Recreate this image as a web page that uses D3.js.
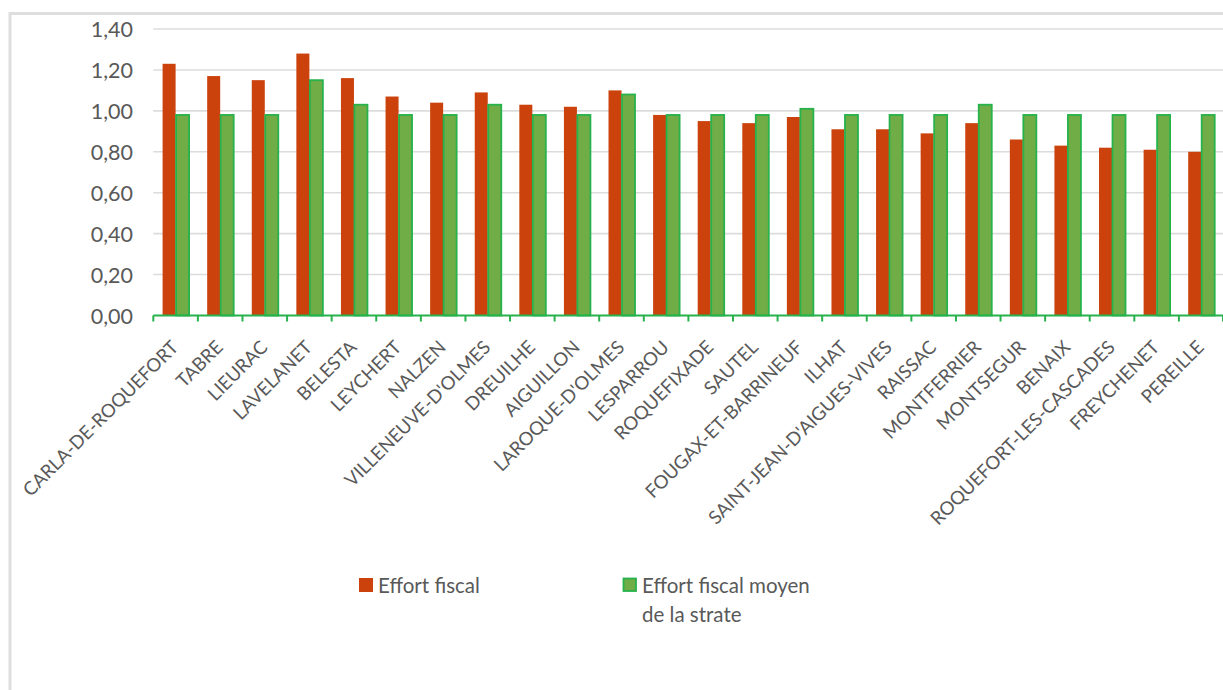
<!DOCTYPE html>
<html>
<head>
<meta charset="utf-8">
<script src="https://cdn.jsdelivr.net/npm/d3@7"></script>
<style>
  html, body { margin: 0; padding: 0; background: #fff; }
  svg { display: block; }
  text { font-family: Lato, "Open Sans", sans-serif; fill: #595959; }
</style>
</head>
<body>
<svg id="chart" width="1223" height="690"></svg>
<script>
// Communes, in chart order
const communes = [
  "CARLA-DE-ROQUEFORT", "TABRE", "LIEURAC", "LAVELANET", "BELESTA", "LEYCHERT",
  "NALZEN", "VILLENEUVE-D'OLMES", "DREUILHE", "AIGUILLON", "LAROQUE-D'OLMES",
  "LESPARROU", "ROQUEFIXADE", "SAUTEL", "FOUGAX-ET-BARRINEUF", "ILHAT",
  "SAINT-JEAN-D'AIGUES-VIVES", "RAISSAC", "MONTFERRIER", "MONTSEGUR", "BENAIX",
  "ROQUEFORT-LES-CASCADES", "FREYCHENET", "PEREILLE"
];

// Effort fiscal de la commune
const effortFiscal = [
  1.23, 1.17, 1.15, 1.28, 1.16, 1.07,
  1.04, 1.09, 1.03, 1.02, 1.10,
  0.98, 0.95, 0.94, 0.97, 0.91,
  0.91, 0.89, 0.94, 0.86, 0.83,
  0.82, 0.81, 0.80
];

// Effort fiscal moyen de la strate
const effortStrate = [
  0.98, 0.98, 0.98, 1.15, 1.03, 0.98,
  0.98, 1.03, 0.98, 0.98, 1.08,
  0.98, 0.98, 0.98, 1.01, 0.98,
  0.98, 0.98, 1.03, 0.98, 0.98,
  0.98, 0.98, 0.98
];

const yTicks = [0, 0.2, 0.4, 0.6, 0.8, 1.0, 1.2, 1.4];

const seriesNames = ["Effort fiscal", "Effort fiscal moyen de la strate"];

const RED = "#cb420c";
const GREEN_FILL = "#70ad47";
const GREEN_LINE = "#27b24b";
const GRID = "#dcdcdc";

const svg = d3.select("#chart");

// Outer chart frame
svg.append("rect")
  .attr("x", 10).attr("y", 13.5)
  .attr("width", 1400).attr("height", 900)
  .attr("fill", "none")
  .attr("stroke", "#dedede")
  .attr("stroke-width", 3);

const plot = { left: 153.3, right: 1223.5, top: 29, bottom: 315.5 };

const x = d3.scaleBand()
  .domain(communes)
  .range([plot.left, plot.right])
  .paddingInner(0).paddingOuter(0);

const y = d3.scaleLinear()
  .domain([0, 1.4])
  .range([plot.bottom, plot.top]);

const fmt = v => d3.format(".2f")(v).replace(".", ",");

// Horizontal gridlines
svg.append("g")
  .selectAll("line")
  .data(yTicks.filter(t => t > 0))
  .join("line")
  .attr("x1", plot.left).attr("x2", plot.right)
  .attr("y1", d => y(d)).attr("y2", d => y(d))
  .attr("stroke", GRID)
  .attr("stroke-width", 1.6);

// Y axis labels
const yAxis = d3.axisLeft(y).tickValues(yTicks).tickFormat(fmt).tickSize(0).tickPadding(0);
const gy = svg.append("g")
  .attr("transform", `translate(133,0)`)
  .call(yAxis);
gy.select(".domain").remove();
gy.selectAll("text")
  .attr("font-family", "Lato, sans-serif")
  .attr("font-size", 21.5)
  .attr("fill", "#5f5f5f")
  .attr("dy", "0.35em");

// Bars
const barW = 13;
const center = d => x(d) + x.bandwidth() / 2;

svg.append("g")
  .selectAll("rect")
  .data(communes)
  .join("rect")
  .attr("x", d => center(d) - barW)
  .attr("y", (d, i) => y(effortFiscal[i]))
  .attr("width", barW)
  .attr("height", (d, i) => y(0) - y(effortFiscal[i]))
  .attr("fill", RED);

svg.append("g")
  .selectAll("rect")
  .data(communes)
  .join("rect")
  .attr("x", d => center(d) + 0.5)
  .attr("y", (d, i) => y(effortStrate[i]))
  .attr("width", barW)
  .attr("height", (d, i) => y(0) - y(effortStrate[i]))
  .attr("fill", GREEN_FILL)
  .attr("stroke", GREEN_LINE)
  .attr("stroke-width", 1.8);

// X axis line and tick marks between categories
const gx = svg.append("g").attr("transform", `translate(0,${plot.bottom})`);
gx.append("line")
  .attr("x1", plot.left).attr("x2", plot.right)
  .attr("stroke", GREEN_LINE).attr("stroke-width", 2.2);
const boundaries = communes.map(d => x(d)).concat([plot.right - 0.5]);
gx.selectAll("line.tick")
  .data(boundaries)
  .join("line")
  .attr("class", "tick")
  .attr("x1", d => d).attr("x2", d => d)
  .attr("y1", 0).attr("y2", 6)
  .attr("stroke", GREEN_LINE).attr("stroke-width", 2);

// Rotated category labels
svg.append("g")
  .selectAll("text")
  .data(communes)
  .join("text")
  .attr("transform", d => `translate(${center(d) + 4},${plot.bottom + 33}) rotate(-45)`)
  .attr("text-anchor", "end")
  .attr("font-size", 18.6)
  .text(d => d);

// Legend
const legend = svg.append("g");
legend.append("rect")
  .attr("x", 359).attr("y", 578).attr("width", 14).attr("height", 14)
  .attr("fill", RED);
legend.append("text")
  .attr("x", 378).attr("y", 592.5)
  .attr("font-size", 20.5)
  .text(seriesNames[0]);

legend.append("rect")
  .attr("x", 623.5).attr("y", 578.5).attr("width", 12.5).attr("height", 12.5)
  .attr("fill", GREEN_FILL)
  .attr("stroke", GREEN_LINE).attr("stroke-width", 1.8);
const t2 = legend.append("text")
  .attr("x", 642).attr("y", 592.5)
  .attr("font-size", 20.5);
t2.append("tspan").attr("x", 642).text("Effort fiscal moyen");
t2.append("tspan").attr("x", 642).attr("dy", 29).text("de la strate");
</script>
</body>
</html>
